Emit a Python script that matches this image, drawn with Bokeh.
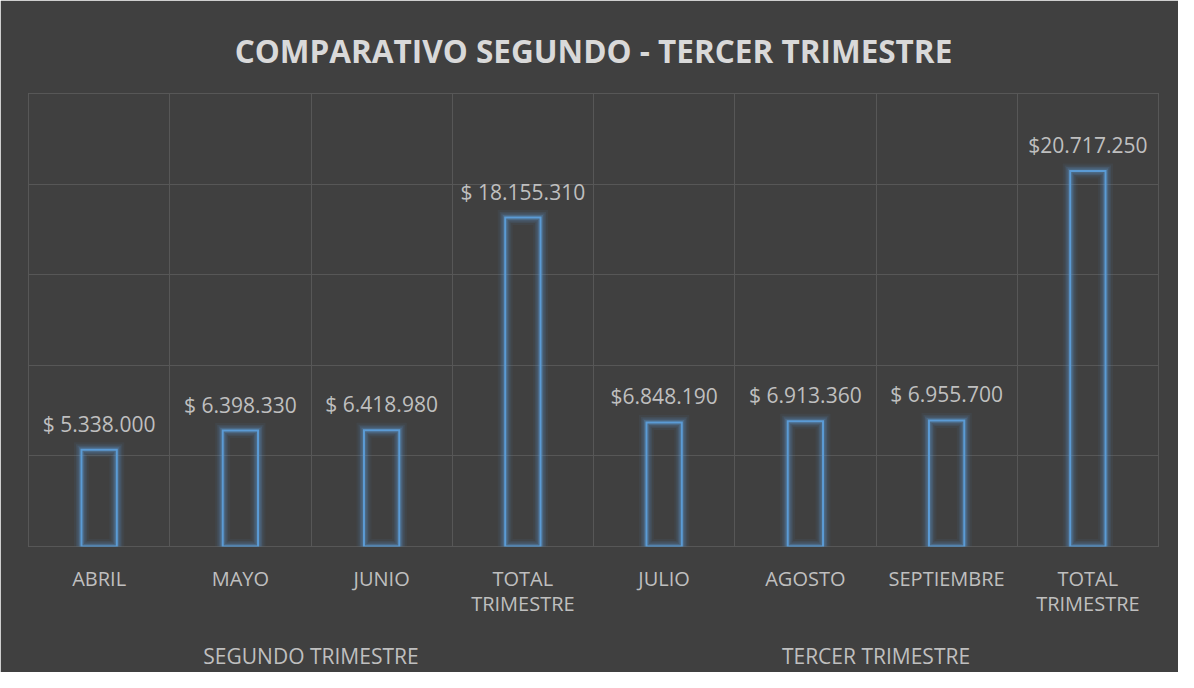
from bokeh.plotting import figure
from bokeh.models import Range1d, FixedTicker, LinearAxis, ColumnDataSource, Title
from bokeh.core.properties import value
from bokeh.embed import file_html
from bokeh.resources import INLINE

# ---- data ----
title_text = "COMPARATIVO SEGUNDO - TERCER TRIMESTRE"
groups = ["SEGUNDO TRIMESTRE", "TERCER TRIMESTRE"]
categories = ["ABRIL", "MAYO", "JUNIO", "TOTAL\nTRIMESTRE",
              "JULIO", "AGOSTO", "SEPTIEMBRE", "TOTAL\nTRIMESTRE"]
values = [5338000, 6398330, 6418980, 18155310,
          6848190, 6913360, 6955700, 20717250]
value_labels = ["$ 5.338.000", "$ 6.398.330", "$ 6.418.980", "$ 18.155.310",
                "$6.848.190", "$ 6.913.360", "$ 6.955.700", "$20.717.250"]
y_ticks = [0, 5000000, 10000000, 15000000, 20000000, 25000000]

BG = "#404040"
GRID = "#575757"
TXT = "#BFBFBF"
BLUE = "#5B9BD5"
FONT = "Open Sans"

n = len(categories)
xs = [i + 0.5 for i in range(n)]
src = ColumnDataSource(dict(x=xs, top=values, lab=value_labels))

p = figure(width=1178, height=672, output_backend="svg", toolbar_location=None,
           x_range=Range1d(0, n), y_range=Range1d(y_ticks[0], y_ticks[-1]),
           background_fill_color=BG, border_fill_color=BG,
           min_border_left=28, min_border_right=20,
           min_border_top=93, min_border_bottom=125)

p.title = Title(text=title_text, align="center", vertical_align="top",
                text_font=FONT, text_font_size="31.5px", text_font_style="bold",
                text_color="#D9D9D9", offset=10, standoff=40)

p.outline_line_color = GRID
p.outline_line_width = 1

# grids
p.xgrid.ticker = FixedTicker(ticks=list(range(n + 1)))
p.ygrid.ticker = FixedTicker(ticks=y_ticks)
for g in (p.xgrid, p.ygrid):
    g.grid_line_color = GRID
    g.grid_line_width = 1

p.yaxis.visible = False

# category axis
ax = p.xaxis[0]
ax.ticker = FixedTicker(ticks=xs)
ax.major_label_overrides = {x: c for x, c in zip(xs, categories)}
ax.axis_line_color = None
ax.major_tick_line_color = None
ax.minor_tick_line_color = None
ax.major_tick_out = 0
ax.major_tick_in = 0
ax.major_label_standoff = 18
ax.major_label_text_font = FONT
ax.major_label_text_font_size = "20px"
ax.major_label_text_color = TXT
ax.major_label_text_line_height = 0.93

# group axis
gx = [2.0, 6.0]
gax = LinearAxis(ticker=FixedTicker(ticks=gx),
                 major_label_overrides={x: g for x, g in zip(gx, groups)})
gax.axis_line_color = None
gax.major_tick_line_color = None
gax.minor_tick_line_color = None
gax.major_tick_out = 0
gax.major_tick_in = 0
gax.major_label_standoff = 22
gax.major_label_text_font = FONT
gax.major_label_text_font_size = "21px"
gax.major_label_text_color = TXT
p.add_layout(gax, "below")

# glow layers
W = 0.25
for lw, a in [(15, 0.06), (11, 0.10), (8, 0.15), (5, 0.25)]:
    p.vbar(x="x", top="top", bottom=0, width=W, source=src, fill_color=None,
           line_color=BLUE, line_width=lw, line_alpha=a, line_join="miter")
p.vbar(x="x", top="top", bottom=0, width=W, source=src, fill_color=None,
       line_color=BLUE, line_width=2, line_join="miter")

p.text(x="x", y="top", text="lab", source=src, text_align="center",
       text_baseline="bottom", y_offset=-12, text_font=value(FONT),
       text_font_size="21px", text_color=TXT)

open("out.html", "w").write(file_html(p, INLINE))
